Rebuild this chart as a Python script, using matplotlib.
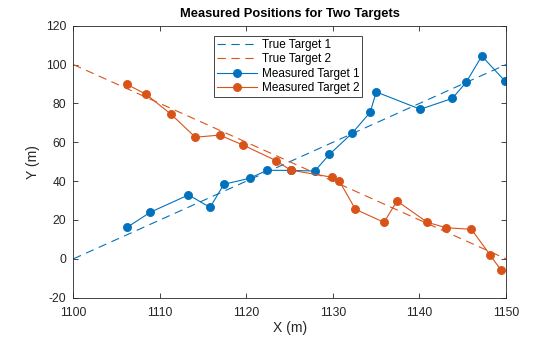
import matplotlib
matplotlib.use("Agg")
import matplotlib.pyplot as plt

plt.rcParams['font.family'] = ['Liberation Sans', 'DejaVu Sans']
plt.rcParams['axes.unicode_minus'] = False

# True straight-line trajectories (endpoints)
true_x = [1100, 1150]
true_y1 = [0, 100]
true_y2 = [100, 0]

# Noisy measurements of target 1
meas1_x = [1106.2, 1108.9, 1113.3, 1115.8, 1117.4, 1120.4, 1122.4, 1125.2,
           1127.9, 1129.6, 1132.2, 1134.3, 1135.0, 1140.1, 1143.8, 1145.4,
           1147.2, 1149.9]
meas1_y = [16.2, 24.0, 32.9, 26.5, 38.4, 41.5, 45.6, 45.5,
           45.2, 53.8, 64.6, 75.4, 85.9, 77.0, 82.6, 90.9,
           104.4, 91.4]

# Noisy measurements of target 2
meas2_x = [1106.2, 1108.4, 1111.3, 1114.1, 1116.9, 1119.6, 1123.4, 1125.1,
           1129.9, 1130.7, 1132.6, 1135.9, 1137.4, 1140.9, 1143.1, 1146.0,
           1148.2, 1149.4]
meas2_y = [89.8, 84.7, 74.4, 62.6, 63.7, 58.6, 50.6, 45.7,
           42.0, 40.3, 25.5, 18.8, 29.8, 18.8, 16.0, 15.2,
           1.8, -5.7]

blue = '#0072BD'
orange = '#D95319'
axcol = '#262626'

fig = plt.figure(figsize=(5.6, 3.37), dpi=100)
ax = fig.add_axes([0.131, 0.1166, 0.7726, 0.8071])

dash = (0, (7.5, 5))
ax.plot(true_x, true_y1, color=blue, lw=0.8, linestyle=dash, label='True Target 1')
ax.plot(true_x, true_y2, color=orange, lw=0.8, linestyle=dash, label='True Target 2')
ax.plot(meas1_x, meas1_y, color=blue, lw=0.8, marker='o', markersize=5.8,
        markeredgewidth=0.6, label='Measured Target 1')
ax.plot(meas2_x, meas2_y, color=orange, lw=0.8, marker='o', markersize=5.8,
        markeredgewidth=0.6, label='Measured Target 2')

ax.set_xlim(1100, 1150)
ax.set_ylim(-20, 120)
ax.set_xticks(range(1100, 1151, 10))
ax.set_yticks(range(-20, 121, 20))

ax.tick_params(direction='in', top=True, right=True, length=3.5, width=0.6,
               labelsize=8.7, colors=axcol)
ax.tick_params(axis='x', pad=7)
ax.tick_params(axis='y', pad=5)
for sp in ax.spines.values():
    sp.set_color(axcol)
    sp.set_linewidth(0.6)

ax.set_xlabel('X (m)', fontsize=10, color=axcol, labelpad=1)
ax.set_ylabel('Y (m)', fontsize=10, color=axcol, labelpad=4)
ax.set_title('Measured Positions for Two Targets', fontsize=9.3,
             fontweight='bold', color='black', pad=6)

leg = ax.legend(loc='upper left', bbox_to_anchor=(0.325, 0.962), fontsize=8.5,
                fancybox=False, framealpha=1, edgecolor=axcol,
                handlelength=3.4, handletextpad=0.4, labelspacing=0.2,
                borderpad=0.25, borderaxespad=0)
leg.get_frame().set_linewidth(0.6)

fig.savefig('out.png', dpi=100)
